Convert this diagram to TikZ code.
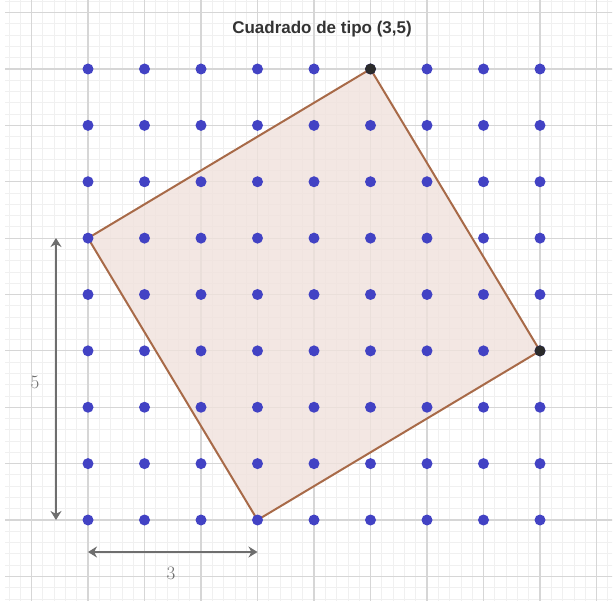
\documentclass[tikz,border=0pt]{standalone}
\usepackage{fontspec}
\newfontfamily\titlefont{Liberation Sans}
\usetikzlibrary{arrows.meta}
\pgfdeclarelayer{gridlayer}
\pgfdeclarelayer{shapelayer}
\pgfsetlayers{gridlayer,shapelayer,main}
\definecolor{dotblue}{HTML}{4242C4}
\definecolor{vtx}{HTML}{2B2B2B}
\definecolor{edgebrown}{HTML}{A86A48}
\definecolor{sqfill}{HTML}{F0E2DC}
\definecolor{minorgrid}{HTML}{F0F0F0}
\definecolor{majorgrid}{HTML}{D6D6D6}
\definecolor{dimgrey}{HTML}{6E6E6E}
\begin{document}
\begin{tikzpicture}[x=1pt,y=-1pt,
  dot/.style={circle,fill=dotblue,inner sep=0pt,minimum size=11pt},
  vdot/.style={circle,fill=vtx,inner sep=0pt,minimum size=11pt},
  sq/.style={draw=edgebrown,line width=2pt,fill=sqfill,fill opacity=0.8,line join=round},
  dimarrow/.style={draw=dimgrey,line width=2.8pt,{Stealth[length=9pt,width=11pt]}-{Stealth[length=9pt,width=11pt]}},
  dimlabel/.style={text=dimgrey,font=\fontsize{19}{19}\selectfont},
  minorline/.style={draw=minorgrid,line width=0.8pt},
  majorline/.style={draw=majorgrid,line width=1.2pt}]
\useasboundingbox (0,0) rectangle (614,604);
\begin{pgfonlayer}{gridlayer}
\fill[white] (0,0) rectangle (614,604);
\begin{scope}
\clip (5,0) rectangle (612,600);
\foreach \i in {-8,...,47} {
  \draw[minorline] ({88+\i*11.3},0) -- ({88+\i*11.3},604);
  \draw[minorline] (0,{69+\i*11.275}) -- (614,{69+\i*11.275});
}
\foreach \i in {-1,...,9} {
  \draw[majorline] ({88+\i*56.5},0) -- ({88+\i*56.5},604);
  \draw[majorline] (0,{69+\i*56.375}) -- (614,{69+\i*56.375});
}
\end{scope}
\end{pgfonlayer}
% lattice points
\foreach \i in {0,...,8} {
  \foreach \j in {0,...,8} {
    \node[dot] (p\i\j) at ({88+\i*56.5},{69+\j*56.375}) {};
  }
}
% square vertices
\node[vdot] (top) at (p50) {};
\node[vdot] (right) at (p85) {};
\begin{pgfonlayer}{shapelayer}
\draw[sq] (p03.center) -- (p38.center) -- (p85.center) -- (p50.center) -- cycle;
\end{pgfonlayer}
% title
\node[text=black!80,font=\titlefont\bfseries\fontsize{17}{18}\selectfont] (title) at (322,29) {Cuadrado de tipo (3,5)};
% dimension arrows
\coordinate (v1) at (56,238);
\coordinate (v2) at (56,520);
\coordinate (h1) at (88,552);
\coordinate (h2) at (257.5,552);
\draw[dimarrow] (v1) -- (v2);
\draw[dimarrow] (h1) -- (h2);
\node[dimlabel] (five) at (35,382) {5};
\node[dimlabel] (three) at (171,573) {3};
\end{tikzpicture}
\end{document}
